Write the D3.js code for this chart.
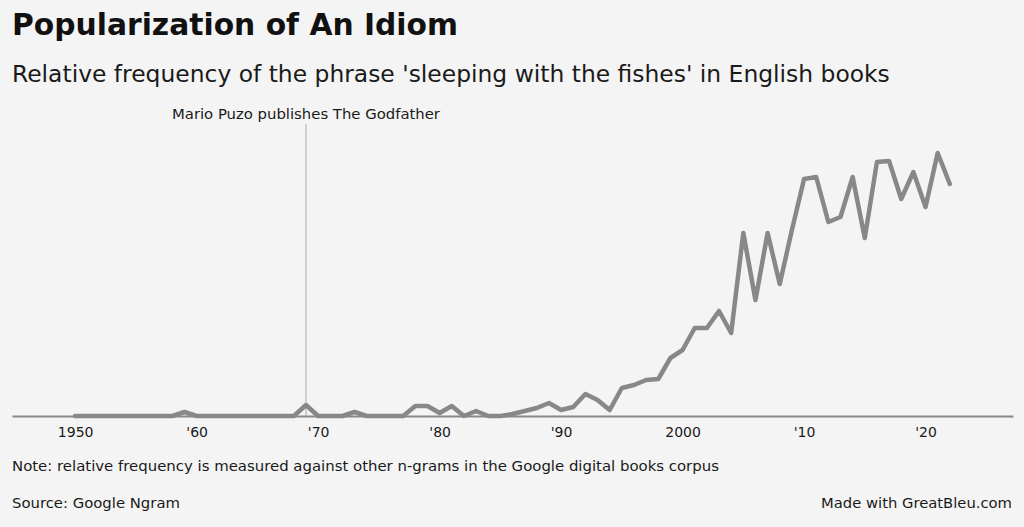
<!DOCTYPE html>
<html>
<head>
<meta charset="utf-8">
<script src="https://cdn.jsdelivr.net/npm/d3@7"></script>
<style>
  html, body { margin: 0; padding: 0; background: #f4f4f4; }
  svg { display: block; font-family: "DejaVu Sans", Verdana, sans-serif; }
</style>
</head>
<body>
<svg id="chart" width="1024" height="527"></svg>
<script>
// ---- Data (relative frequency, arbitrary units) ----
const years = d3.range(1950, 2023);
const frequency = [
  0, 0, 0, 0, 0, 0, 0, 0, 0, 4,      // 1950-1959
  0, 0, 0, 0, 0, 0, 0, 0, 0, 11,     // 1960-1969
  0, 0, 0, 4, 0, 0, 0, 0, 10, 10,    // 1970-1979
  3, 10, 0, 5, 0, 0, 2, 5, 8, 13,    // 1980-1989
  6, 9, 22, 16, 6, 28, 31, 36, 37, 58, // 1990-1999
  66, 88, 88, 105, 83, 183, 116, 183, 132, 186, // 2000-2009
  237, 239, 194, 199, 239, 178, 254, 255, 217, 244, // 2010-2019
  209, 263, 232                       // 2020-2022
];
const tickYears = [1950, 1960, 1970, 1980, 1990, 2000, 2010, 2020];
const tickLabels = ["1950", "'60", "'70", "'80", "'90", "2000", "'10", "'20"];
const annotationYear = 1969;
const annotationText = "Mario Puzo publishes The Godfather";

const titleText = "Popularization of An Idiom";
const subtitleText = "Relative frequency of the phrase 'sleeping with the fishes' in English books";
const noteText = "Note: relative frequency is measured against other n-grams in the Google digital books corpus";
const sourceText = "Source: Google Ngram";
const creditText = "Made with GreatBleu.com";

// ---- Layout ----
const svg = d3.select("#chart");
const textColor = "#1a1a1a";

function fitText(sel, targetWidth) {
  const node = sel.node();
  const fs = parseFloat(sel.attr("font-size"));
  const w = node.getComputedTextLength();
  if (w > 0) sel.attr("font-size", (fs * targetWidth / w).toFixed(2));
  return sel;
}

const x = d3.scaleLinear().domain([1944.8, 2027.2]).range([12, 1013]);
const y = d3.scaleLinear().domain([0, 300]).range([416, 116]);

// Title & subtitle
fitText(svg.append("text").attr("x", 12).attr("y", 35)
  .attr("font-size", 28).attr("font-weight", "bold").attr("fill", "#111")
  .text(titleText), 446);
fitText(svg.append("text").attr("x", 12).attr("y", 82)
  .attr("font-size", 22).attr("fill", textColor)
  .text(subtitleText), 878);

// Annotation
svg.append("line")
  .attr("x1", x(annotationYear)).attr("x2", x(annotationYear))
  .attr("y1", 124).attr("y2", y(0))
  .attr("stroke", "#aaa").attr("stroke-width", 1);
fitText(svg.append("text").attr("x", x(annotationYear)).attr("y", 119)
  .attr("text-anchor", "middle").attr("font-size", 13).attr("fill", textColor)
  .text(annotationText), 268);

// Axis
const axis = d3.axisBottom(x)
  .tickValues(tickYears)
  .tickFormat((d, i) => tickLabels[i])
  .tickSize(0)
  .tickPadding(11);
const gAxis = svg.append("g").attr("transform", `translate(0,${y(0)})`).call(axis);
gAxis.select(".domain").attr("stroke", "#888").attr("stroke-width", 2);
gAxis.selectAll("text").attr("font-size", 14).attr("fill", textColor)
  .attr("font-family", "DejaVu Sans, Verdana, sans-serif");

// Line
const line = d3.line()
  .x((d, i) => x(years[i]))
  .y(d => y(d));
svg.append("path")
  .datum(frequency)
  .attr("fill", "none")
  .attr("stroke", "#888")
  .attr("stroke-width", 4.5)
  .attr("stroke-linejoin", "round")
  .attr("stroke-linecap", "round")
  .attr("d", line);

// Footer
fitText(svg.append("text").attr("x", 12).attr("y", 471)
  .attr("font-size", 13).attr("fill", textColor).text(noteText), 707);
fitText(svg.append("text").attr("x", 12).attr("y", 508)
  .attr("font-size", 13).attr("fill", textColor).text(sourceText), 168);
fitText(svg.append("text").attr("x", 1012).attr("y", 508).attr("text-anchor", "end")
  .attr("font-size", 13).attr("fill", textColor).text(creditText), 191);
</script>
</body>
</html>
